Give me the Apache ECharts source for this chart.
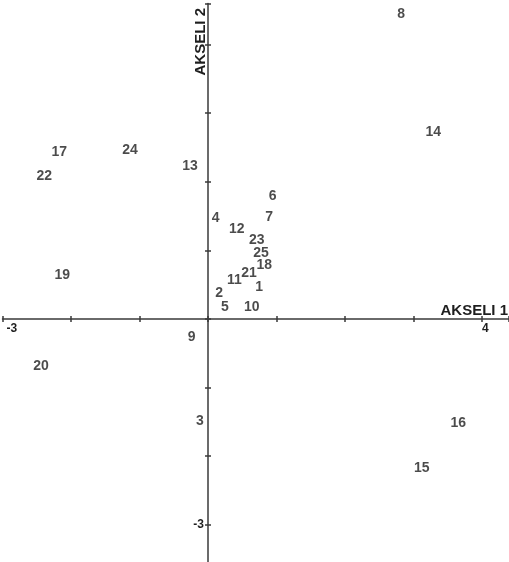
<!DOCTYPE html>
<html>
<head>
<meta charset="utf-8">
<script src="https://cdn.jsdelivr.net/npm/echarts@6/dist/echarts.min.js"></script>
<style>html,body{margin:0;padding:0;background:#fff}#c{width:509px;height:562px}</style>
</head>
<body>
<div id="c"></div>
<script>
const pointLabels = ['1','2','3','4','5','6','7','8','9','10','11','12','13','14','15','16','17','18','19','20','21','22','23','24','25'];
const axis1Values = [0.745, 0.161, -0.117, 0.112, 0.248, 0.945, 0.891, 2.818, -0.238, 0.638, 0.384, 0.419, -0.263, 3.289, 3.120, 3.654, -2.171, 0.822, -2.127, -2.438, 0.599, -2.390, 0.711, -1.139, 0.774];
const axis2Values = [0.462, 0.383, -1.487, 1.465, 0.171, 1.786, 1.483, 4.446, -0.258, 0.179, 0.569, 1.312, 2.230, 2.730, -2.176, -1.520, 2.439, 0.787, 0.637, -0.685, 0.675, 2.089, 1.152, 2.464, 0.958];
const xTickLabels = ['-3', '4'];
const yTickLabels = ['-3'];
const axisNames = ['AKSELI 1', 'AKSELI 2'];

const FONT = 'Liberation Sans, Arial, Helvetica, sans-serif';
const INK = '#1e1e1e';
const LINE = '#3a3a3a';

const W = 509, H = 562;
const G = {left: 2.5, right: 0, top: 3.4, bottom: -31.36};
const xRange = {min: -3, max: 4.394, interval: 1};
const yRange = {min: -4, max: 4.6, interval: 1};

// pixel position of the zero lines inside the grid (used only to place the axes)
const gw = W - G.left - G.right, gh = H - G.top - G.bottom;
const zeroX = G.left + (0 - xRange.min) / (xRange.max - xRange.min) * gw;
const zeroY = G.top + (yRange.max - 0) / (yRange.max - yRange.min) * gh;
const gBottomY = H - G.bottom, gRightX = W - G.right;

const chart = echarts.init(document.getElementById('c'), null, {renderer: 'canvas'});
const data = pointLabels.map((id, i) => ({name: id, value: [axis1Values[i], axis2Values[i]]}));

const tickStyle = {show: true, inside: false, length: 3, lineStyle: {color: LINE, width: 1.5}};

chart.setOption({
  animation: false,
  backgroundColor: '#ffffff',
  grid: {left: G.left, right: G.right, top: G.top, bottom: G.bottom, containLabel: false, outerBoundsMode: 'none'},
  xAxis: [{
    type: 'value', ...xRange, position: 'bottom', offset: -(gBottomY - zeroY),
    name: axisNames[0], nameLocation: 'end', nameGap: 0, nameMoveOverlap: false,
    nameTextStyle: {fontFamily: FONT, fontWeight: 'bold', fontSize: 15, color: INK, align: 'right', verticalAlign: 'bottom', padding: [0, 1, 1, 0]},
    axisLine: {show: true, onZero: false, lineStyle: {color: LINE, width: 1.5}},
    axisTick: tickStyle,
    splitLine: {show: false},
    axisLabel: {
      show: true, margin: 4, align: 'left',
      fontFamily: FONT, fontWeight: 'bold', fontSize: 12, color: INK,
      formatter: v => {
        const s = String(v);
        if (s === xTickLabels[0]) return '{a|' + s + '}';
        if (s === xTickLabels[1]) return '{b|' + s + '}';
        return '';
      },
      rich: {
        a: {fontFamily: FONT, fontWeight: 'bold', fontSize: 12, color: INK, padding: [0, 0, 0, 4]},
        b: {fontFamily: FONT, fontWeight: 'bold', fontSize: 12, color: INK}
      }
    }
  }, {
    type: 'value', ...xRange, position: 'top', offset: -(zeroY - G.top),
    axisLine: {show: false, onZero: false},
    axisTick: tickStyle,
    splitLine: {show: false},
    axisLabel: {show: false}
  }],
  yAxis: [{
    type: 'value', ...yRange, position: 'left', offset: -(zeroX - G.left),
    name: axisNames[1], nameLocation: 'end', nameGap: -4.6, nameRotate: 90, nameMoveOverlap: false,
    nameTextStyle: {fontFamily: FONT, fontWeight: 'bold', fontSize: 15, color: INK, align: 'right', verticalAlign: 'bottom'},
    axisLine: {show: true, onZero: false, lineStyle: {color: LINE, width: 1.5}},
    axisTick: tickStyle,
    splitLine: {show: false},
    axisLabel: {
      show: true, margin: 4,
      fontFamily: FONT, fontWeight: 'bold', fontSize: 12, color: INK,
      formatter: v => (yTickLabels.indexOf(String(v)) >= 0 ? String(v) : '')
    }
  }, {
    type: 'value', ...yRange, position: 'right', offset: -(gRightX - zeroX),
    axisLine: {show: false, onZero: false},
    axisTick: tickStyle,
    splitLine: {show: false},
    axisLabel: {show: false}
  }],
  series: [{
    type: 'scatter',
    xAxisIndex: 0, yAxisIndex: 0,
    symbolSize: 0,
    data: data,
    label: {
      show: true, position: 'inside',
      formatter: p => p.name,
      fontFamily: FONT, fontWeight: 'bold', fontSize: 14, color: INK
    },
    emphasis: {disabled: true}
  }]
});
</script>
</body>
</html>
